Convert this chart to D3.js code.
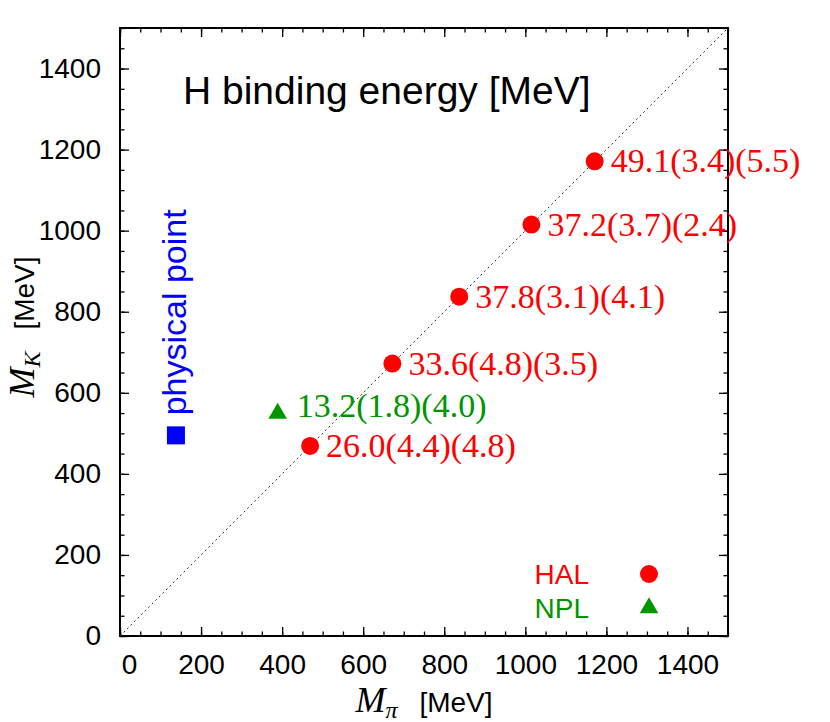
<!DOCTYPE html>
<html><head><meta charset="utf-8">
<script src="https://cdn.jsdelivr.net/npm/d3@7"></script>
<style>body{margin:0;background:#fff}</style>
</head><body>
<svg id="c" width="830" height="722"></svg>
<script>
// ---- data ----
const halMpi = [469, 672, 837, 1015, 1171];
const halMK = [469, 672, 837, 1015, 1171];
const halLabels = ["26.0(4.4)(4.8)", "33.6(4.8)(3.5)", "37.8(3.1)(4.1)", "37.2(3.7)(2.4)", "49.1(3.4)(5.5)"];
const nplMpi = [389];
const nplMK = [544];
const nplLabels = ["13.2(1.8)(4.0)"];
const physMpi = [138];
const physMK = [495];
const xTickLabels = [0, 200, 400, 600, 800, 1000, 1200, 1400];
const yTickLabels = [0, 200, 400, 600, 800, 1000, 1200, 1400];
const domainMax = 1500;
const legendNames = ["HAL", "NPL"];

const RED = "#ff0000", GREEN = "#009600", BLUE = "#0000ff";
const SANS = "'Liberation Sans', Arial, Helvetica, sans-serif";
const SERIF = "'Liberation Serif', 'Times New Roman', serif";

const svg = d3.select("#c");
svg.append("rect").attr("width", 830).attr("height", 722).attr("fill", "#fff");

const L = 120, R = 728, T = 28, B = 636;
const x = d3.scaleLinear().domain([0, domainMax]).range([L, R]);
const y = d3.scaleLinear().domain([0, domainMax]).range([B, T]);
const minorVals = d3.range(0, domainMax + 1, 50);

function styleAxis(g) {
  g.select(".domain").remove();
  g.selectAll(".tick line").attr("stroke", "#000").attr("stroke-width", 1.3);
}
// minor ticks
svg.append("g").attr("transform", `translate(0,${B})`)
  .call(d3.axisBottom(x).tickValues(minorVals).tickSize(-4.5).tickFormat(""))
  .call(styleAxis);
svg.append("g").attr("transform", `translate(0,${T})`)
  .call(d3.axisTop(x).tickValues(minorVals).tickSize(-4.5).tickFormat(""))
  .call(styleAxis);
svg.append("g").attr("transform", `translate(${L},0)`)
  .call(d3.axisLeft(y).tickValues(minorVals).tickSize(-4.5).tickFormat(""))
  .call(styleAxis);
svg.append("g").attr("transform", `translate(${R},0)`)
  .call(d3.axisRight(y).tickValues(minorVals).tickSize(-4.5).tickFormat(""))
  .call(styleAxis);
// major ticks
const gx = svg.append("g").attr("transform", `translate(0,${B})`)
  .call(d3.axisBottom(x).tickValues(xTickLabels).tickSize(-9).tickPadding(18).tickFormat(d3.format("d")))
  .call(styleAxis);
svg.append("g").attr("transform", `translate(0,${T})`)
  .call(d3.axisTop(x).tickValues(xTickLabels).tickSize(-9).tickFormat(""))
  .call(styleAxis);
const gy = svg.append("g").attr("transform", `translate(${L},0)`)
  .call(d3.axisLeft(y).tickValues(yTickLabels).tickSize(-9).tickPadding(19).tickFormat(d3.format("d")))
  .call(styleAxis);
svg.append("g").attr("transform", `translate(${R},0)`)
  .call(d3.axisRight(y).tickValues(yTickLabels).tickSize(-9).tickFormat(""))
  .call(styleAxis);

[gx, gy].forEach(g => g.selectAll(".tick text")
  .attr("font-family", SANS).attr("font-size", 28).attr("fill", "#000"));
gx.selectAll(".tick text").filter(d => d === 0).attr("dx", 9);

// frame
svg.append("rect").attr("x", L).attr("y", T).attr("width", R - L).attr("height", B - T)
  .attr("fill", "none").attr("stroke", "#000").attr("stroke-width", 2);

// diagonal
svg.append("line")
  .attr("x1", x(0)).attr("y1", y(0)).attr("x2", x(domainMax)).attr("y2", y(domainMax))
  .attr("stroke", "#333").attr("stroke-width", 1).attr("stroke-dasharray", "2,3");

// title
svg.append("text").attr("x", 183).attr("y", 104)
  .attr("font-family", SANS).attr("font-size", 39).attr("fill", "#000")
  .text("H binding energy [MeV]");

// HAL points
const hal = halMpi.map((v, i) => ({ mx: v, my: halMK[i], label: halLabels[i] }));
svg.selectAll("circle.hal").data(hal).enter().append("circle")
  .attr("cx", d => x(d.mx)).attr("cy", d => y(d.my)).attr("r", 9).attr("fill", RED);
svg.selectAll("text.hal").data(hal).enter().append("text")
  .attr("x", d => x(d.mx) + 16).attr("y", d => y(d.my) + 11)
  .attr("font-family", SERIF).attr("font-size", 34).attr("fill", RED)
  .text(d => d.label);

// NPL points
const tri = d3.symbol().type(d3.symbolTriangle).size(150);
const npl = nplMpi.map((v, i) => ({ mx: v, my: nplMK[i], label: nplLabels[i] }));
svg.selectAll("path.npl").data(npl).enter().append("path")
  .attr("d", tri).attr("transform", d => `translate(${x(d.mx)},${y(d.my) - 2})`).attr("fill", GREEN);
svg.selectAll("text.npl").data(npl).enter().append("text")
  .attr("x", d => x(d.mx) + 19).attr("y", d => y(d.my) + 2)
  .attr("font-family", SERIF).attr("font-size", 34).attr("fill", GREEN)
  .text(d => d.label);

// physical point
const phys = physMpi.map((v, i) => ({ mx: v, my: physMK[i] }));
svg.selectAll("rect.phys").data(phys).enter().append("rect")
  .attr("x", d => x(d.mx) - 9).attr("y", d => y(d.my) - 9).attr("width", 18).attr("height", 18)
  .attr("fill", BLUE);
svg.selectAll("text.phys").data(phys).enter().append("text")
  .attr("transform", d => `translate(${x(d.mx) + 10},${y(d.my) - 20}) rotate(-90)`)
  .attr("font-family", SANS).attr("font-size", 34).attr("fill", BLUE)
  .text("physical point");

// legend
const legColors = [RED, GREEN];
legendNames.forEach((name, i) => {
  const ly = 574 + i * 34;
  svg.append("text").attr("x", 589).attr("y", ly + 10).attr("text-anchor", "end")
    .attr("font-family", SANS).attr("font-size", 28).attr("fill", legColors[i]).text(name);
  if (i === 0) {
    svg.append("circle").attr("cx", 649).attr("cy", ly).attr("r", 9).attr("fill", RED);
  } else {
    svg.append("path").attr("d", tri).attr("transform", `translate(649,${ly})`).attr("fill", GREEN);
  }
});

// axis titles
function axisTitle(sel, sub) {
  sel.append("tspan").attr("font-family", SERIF).attr("font-style", "italic").attr("font-size", 36).text("M");
  sel.append("tspan").attr("font-family", SERIF).attr("font-style", "italic").attr("font-size", 24)
    .attr("dy", 6).text(sub);
  sel.append("tspan").attr("font-family", SANS).attr("font-size", 28).attr("dy", -6)
    .attr("dx", 22).text("[MeV]");
}
const xt = svg.append("text").attr("x", (L + R) / 2).attr("y", 712).attr("text-anchor", "middle").attr("fill", "#000");
axisTitle(xt, "π");
const yt = svg.append("text").attr("transform", `translate(34,${(T + B) / 2 - 5}) rotate(-90)`)
  .attr("text-anchor", "middle").attr("fill", "#000");
axisTitle(yt, "K");
</script>
</body></html>
